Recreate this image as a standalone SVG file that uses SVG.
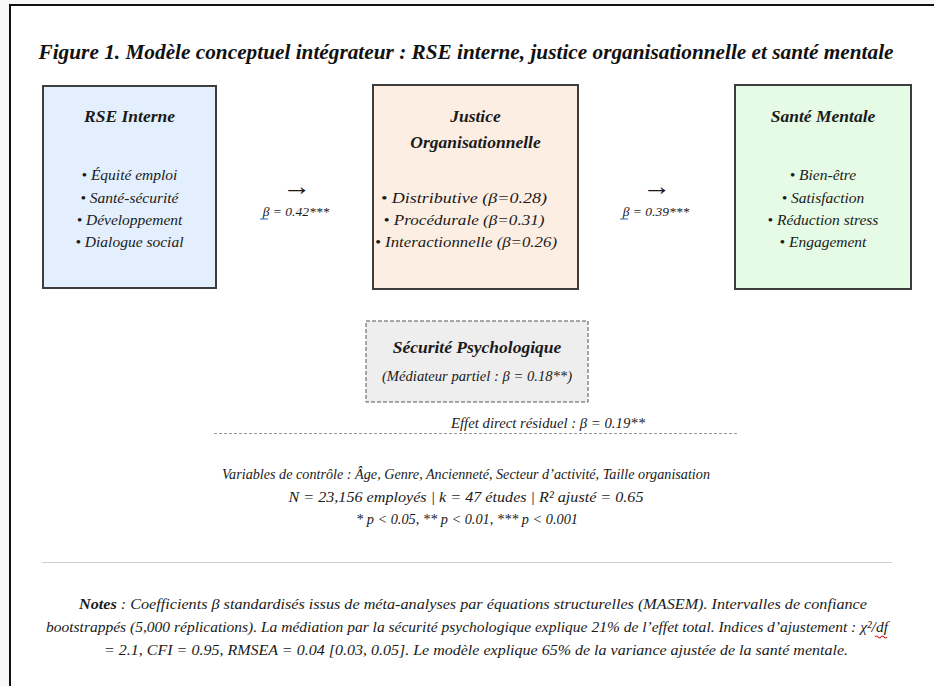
<svg xmlns="http://www.w3.org/2000/svg" width="934" height="686" viewBox="0 0 934 686">
<style>
text{font-family:"Liberation Serif","DejaVu Serif",serif;fill:#1a1a1a;font-style:italic}
.ttl{font-size:21px;font-weight:bold;fill:#111}
.hd{font-size:17.5px;font-weight:bold;text-anchor:middle}
.bl{font-size:15.5px;text-anchor:middle}
.lab{font-size:13.5px;text-anchor:middle}
.arr{font-size:26px;font-style:normal;text-anchor:middle}
.box{stroke:#3d3d3d;stroke-width:2}
.tx{font-size:15.5px;text-anchor:middle}
.sq{fill:none;stroke-width:1.2}
</style>
<rect x="0" y="0" width="934" height="686" fill="#f8f8f8"/>
<rect x="10" y="5" width="930" height="690" fill="#ffffff" stroke="#111" stroke-width="2"/>
<text class="ttl" x="466" y="59" text-anchor="middle" textLength="855" lengthAdjust="spacingAndGlyphs">Figure 1. Modèle conceptuel intégrateur : RSE interne, justice organisationnelle et santé mentale</text>

<g id="rse">
<rect class="box" x="43" y="86" width="173" height="202" fill="#e3effd"/>
<text class="hd" x="129.5" y="122">RSE Interne</text>
<text class="bl" x="129.5" y="180">• Équité emploi</text>
<text class="bl" x="129.5" y="203">• Santé-sécurité</text>
<text class="bl" x="129.5" y="225">• Développement</text>
<text class="bl" x="129.5" y="247">• Dialogue social</text>
</g>

<g id="justice">
<rect class="box" x="373" y="85" width="205" height="204" fill="#fdeee3"/>
<text class="hd" x="475.5" y="122">Justice</text>
<text class="hd" x="475.5" y="148">Organisationnelle</text>
<text class="bl" x="464" y="203" textLength="166" lengthAdjust="spacingAndGlyphs">• Distributive (β=0.28)</text>
<text class="bl" x="464" y="225" textLength="161" lengthAdjust="spacingAndGlyphs">• Procédurale (β=0.31)</text>
<text class="bl" x="466" y="247" textLength="182" lengthAdjust="spacingAndGlyphs">• Interactionnelle (β=0.26)</text>
</g>

<g id="sante">
<rect class="box" x="735" y="85" width="176" height="204" fill="#e5fbe5"/>
<text class="hd" x="823" y="122">Santé Mentale</text>
<text class="bl" x="823" y="180">• Bien-être</text>
<text class="bl" x="823" y="203">• Satisfaction</text>
<text class="bl" x="823" y="225">• Réduction stress</text>
<text class="bl" x="823" y="247">• Engagement</text>
</g>

<g id="connectors">
<text class="arr" x="297" y="195" textLength="29" lengthAdjust="spacingAndGlyphs">→</text>
<text class="lab" x="296" y="216">β = 0.42***</text>
<path class="sq" d="M260 219 h8" stroke="#4a7fd6"/>
<text class="arr" x="657" y="195" textLength="29" lengthAdjust="spacingAndGlyphs">→</text>
<text class="lab" x="656" y="216">β = 0.39***</text>
<path class="sq" d="M620 219 h8" stroke="#4a7fd6"/>
<text class="lab" x="548" y="428" style="font-size:15px" textLength="194" lengthAdjust="spacingAndGlyphs">Effet direct résiduel : β = 0.19**</text>
<line x1="214" y1="433.5" x2="737" y2="433.5" stroke="#9a9a9a" stroke-width="1" stroke-dasharray="3,2"/>
</g>

<g id="securite">
<rect x="366" y="321" width="222" height="81" fill="#eeeeee" stroke="#555" stroke-width="1" stroke-dasharray="4,2"/>
<text class="hd" x="477" y="353">Sécurité Psychologique</text>
<text class="lab" x="477" y="381" style="font-size:15px" textLength="190" lengthAdjust="spacingAndGlyphs">(Médiateur partiel : β = 0.18**)</text>
</g>

<g id="stats">
<text class="tx" x="466" y="479" textLength="488" lengthAdjust="spacingAndGlyphs">Variables de contrôle : Âge, Genre, Ancienneté, Secteur d’activité, Taille organisation</text>
<text class="tx" x="466" y="502" textLength="355" lengthAdjust="spacingAndGlyphs">N = 23,156 employés | k = 47 études | R² ajusté = 0.65</text>
<text class="tx" x="467" y="524" textLength="222" lengthAdjust="spacingAndGlyphs">* p &lt; 0.05, ** p &lt; 0.01, *** p &lt; 0.001</text>
</g>

<line x1="42" y1="562.5" x2="892" y2="562.5" stroke="#cfcfcf" stroke-width="1"/>

<g id="notes">
<text class="tx" x="473" y="609" textLength="788" lengthAdjust="spacingAndGlyphs"><tspan font-weight="bold">Notes</tspan> : Coefficients  β standardisés issus de méta-analyses par équations structurelles (MASEM). Intervalles de confiance</text>
<text class="tx" x="467" y="632" textLength="842" lengthAdjust="spacingAndGlyphs">bootstrappés (5,000 réplications). La médiation par la sécurité psychologique explique 21% de l’effet total. Indices d’ajustement : χ²/df</text>
<path class="sq" d="M875 637 q1.5 -2 3 0 t3 0 t3 0 t3 0" stroke="#d22"/>
<text class="tx" x="476" y="655" textLength="744" lengthAdjust="spacingAndGlyphs">= 2.1, CFI = 0.95, RMSEA = 0.04 [0.03, 0.05]. Le modèle explique 65% de la variance ajustée de la santé mentale.</text>
</g>
</svg>
